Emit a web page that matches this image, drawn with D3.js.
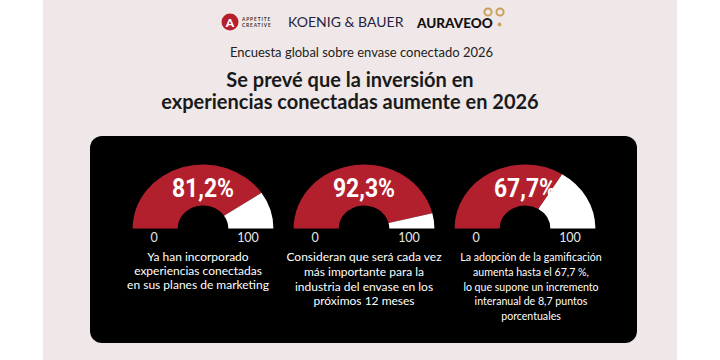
<!DOCTYPE html>
<html><head><meta charset="utf-8">
<script src="https://cdn.jsdelivr.net/npm/d3@7"></script>
<style>
html,body{margin:0;padding:0;background:#fff;}
svg{display:block;}
</style></head>
<body>
<script>
// ---- data ----
const categories = ["incorporado", "importante", "gamificacion"];
const values = [81.2, 92.3, 67.7];
const scaleTicks = [0, 100];
const tickLabels = ["0", "100"];
const descriptions = [
  ["Ya han incorporado", "experiencias conectadas", "en sus planes de marketing"],
  ["Consideran que será cada vez", "más importante para la", "industria del envase en los", "próximos 12 meses"],
  ["La adopción de la gamificación", "aumenta hasta el 67,7 %,", "lo que supone un incremento", "interanual de 8,7 puntos", "porcentuales"]
];
const subtitle = "Encuesta global sobre envase conectado 2026";
const titleLines = ["Se prevé que la inversión en", "experiencias conectadas aumente en 2026"];

// ---- drawing ----
const W = 720, H = 360;
const svg = d3.select("body").append("svg").attr("width", W).attr("height", H);

svg.append("rect").attr("x", 43).attr("y", 0).attr("width", 634).attr("height", H).attr("fill", "#f0e8e8");

// logos
const logo = svg.append("g");
logo.append("circle").attr("cx", 230).attr("cy", 22).attr("r", 8.5).attr("fill", "#b5202c");
logo.append("text").attr("x", 230).attr("y", 26.5).attr("text-anchor", "middle")
  .attr("font-family", "Lato, sans-serif").attr("font-weight", 900).attr("font-size", 12).attr("fill", "#fff").text("A");
logo.append("text").attr("x", 242).attr("y", 20.5).attr("font-family", "Lato, sans-serif").attr("font-weight", 700)
  .attr("font-size", 4.8).attr("letter-spacing", 0.9).attr("fill", "#333").text("APPETITE");
logo.append("text").attr("x", 242).attr("y", 26.5).attr("font-family", "Lato, sans-serif").attr("font-weight", 700)
  .attr("font-size", 4.8).attr("letter-spacing", 0.9).attr("fill", "#333").text("CREATIVE");
logo.append("text").attr("x", 288).attr("y", 27).attr("font-family", "Lato, sans-serif").attr("font-weight", 400)
  .attr("font-size", 14).attr("letter-spacing", 0.6).attr("textLength", 116).attr("lengthAdjust", "spacing")
  .attr("fill", "#1f2340").text("KOENIG & BAUER");
logo.append("text").attr("x", 417).attr("y", 28).attr("font-family", "Lato, sans-serif").attr("font-weight", 900)
  .attr("font-size", 13.5).attr("fill", "#111").text("AURAVEOO");
logo.append("circle").attr("cx", 488).attr("cy", 12).attr("r", 3.6).attr("fill", "none").attr("stroke", "#c9a15a").attr("stroke-width", 2);
logo.append("circle").attr("cx", 500).attr("cy", 12).attr("r", 3.6).attr("fill", "none").attr("stroke", "#c9a15a").attr("stroke-width", 2);
logo.append("circle").attr("cx", 499.5).attr("cy", 24.5).attr("r", 2).attr("fill", "#c9a15a");

svg.append("text").attr("x", 361.5).attr("y", 56.5).attr("text-anchor", "middle")
  .attr("font-family", "Lato, sans-serif").attr("font-size", 13).attr("fill", "#222").text(subtitle);

svg.selectAll("text.title").data(titleLines).join("text").attr("class", "title")
  .attr("x", 350).attr("y", (d, i) => 86.5 + i * 22).attr("text-anchor", "middle")
  .attr("font-family", "Lato, sans-serif").attr("font-weight", 700).attr("font-size", 20)
  .attr("fill", "#1a1a1a").text(d => d);

svg.append("rect").attr("x", 90).attr("y", 136).attr("width", 547).attr("height", 207).attr("rx", 12).attr("fill", "#000");

const xPos = d3.scalePoint().domain(categories).range([203, 525]);
const angle = d3.scaleLinear().domain([0, 100]).range([-Math.PI / 2, Math.PI / 2]);
const baseY = 228.5;
const arc = d3.arc().innerRadius(23).outerRadius(64);
const locale = d3.formatLocale({decimal: ",", thousands: ".", grouping: [3], currency: ["", "€"]});
const fmt = locale.format(".1f");
const textShift = [-5, 0, 6];
const descSize = [12, 12, 10.6];
const lineGap = [14.2, 14.8, 14.8];

categories.forEach((c, i) => {
  const cx = xPos(c);
  const g = svg.append("g").attr("transform", `translate(${cx},${baseY})`);
  const ga = g.append("g").attr("transform", "scale(1.1,1)");
  ga.append("path").attr("d", arc({startAngle: angle(0), endAngle: angle(values[i])})).attr("fill", "#b3202d");
  ga.append("path").attr("d", arc({startAngle: angle(values[i]), endAngle: angle(100)})).attr("fill", "#ffffff");
  g.append("text").attr("transform", "translate(0,-32) scale(0.9,1)").attr("text-anchor", "middle")
    .attr("font-family", "Roboto, sans-serif").attr("font-weight", 700).attr("font-size", 25.5)
    .attr("fill", "#fff").text(fmt(values[i]) + "%");
  const tickX = d3.scaleLinear().domain([0, 100]).range([-49, 45]);
  g.selectAll("text.tick").data(scaleTicks).join("text").attr("class", "tick")
    .attr("x", d => tickX(d)).attr("y", 13).attr("text-anchor", "middle")
    .attr("font-family", "Lato, sans-serif").attr("font-size", 12.5).attr("fill", "#e6e6e6")
    .text((d, j) => tickLabels[j]);
  g.selectAll("text.desc").data(descriptions[i]).join("text").attr("class", "desc")
    .attr("x", textShift[i]).attr("y", (d, j) => 32.5 + j * lineGap[i]).attr("text-anchor", "middle")
    .attr("font-family", "Lato, sans-serif").attr("font-size", descSize[i]).attr("fill", "#fff")
    .text(d => d);
});
</script>
</body></html>
